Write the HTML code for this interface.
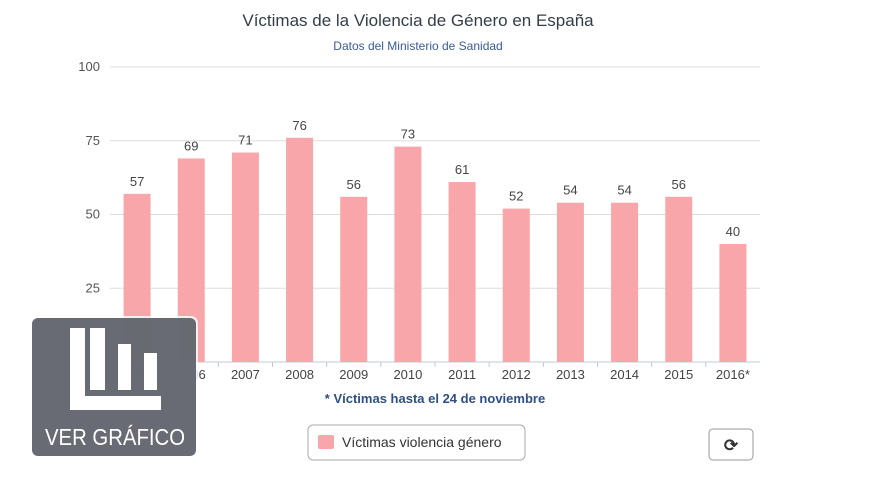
<!DOCTYPE html>
<html><head><meta charset="utf-8"><style>
body{margin:0;width:880px;height:495px;background:#fff;overflow:hidden;font-family:"Liberation Sans",sans-serif;position:relative}
</style></head><body>
<svg id="chart" width="880" height="495" style="position:absolute;left:0;top:0">
<text x="418" y="26" text-anchor="middle" font-size="17" fill="#333d47">Víctimas de la Violencia de Género en España</text>
<text x="418" y="50" text-anchor="middle" font-size="12" fill="#3a5a9a">Datos del Ministerio de Sanidad</text>
<g id="grid"></g><g id="bars"></g><g id="xlabels"></g>
<text x="435" y="403" text-anchor="middle" font-size="13" font-weight="bold" fill="#2e4f86">* Víctimas hasta el 24 de noviembre</text>
<g>
<rect x="308" y="425" width="217" height="35" rx="5" fill="#fff" stroke="#aaa"/>
<rect x="318" y="435" width="16" height="14" rx="2" fill="#f9a6aa"/>
<text x="342" y="447" font-size="14" fill="#333">Víctimas violencia género</text>
</g>
<g>
<rect x="709" y="429" width="44" height="31" rx="4" fill="#fff" stroke="#999"/>
<text x="731" y="451" text-anchor="middle" font-size="17" font-weight="bold" fill="#333">⟳</text>
</g>
<g>
<rect x="30" y="316" width="168" height="142" rx="7" fill="#fff" opacity="0.8"/>
<rect x="32" y="318" width="164" height="138" rx="6" fill="#5d6068" opacity="0.93"/>
<path d="M70 328 h15 v68 h76 v14 h-91 z" fill="#fff"/>
<rect x="90" y="328" width="15" height="62" fill="#fff"/>
<rect x="118" y="344" width="13" height="46" fill="#fff"/>
<rect x="144" y="353" width="13" height="37" fill="#fff"/>
<text x="115" y="445" text-anchor="middle" font-size="23" fill="#fff" textLength="140" lengthAdjust="spacingAndGlyphs">VER GRÁFICO</text>
</g>
</svg>
<script>
const categories=["2005","2006","2007","2008","2009","2010","2011","2012","2013","2014","2015","2016*"];
const values=[57,69,71,76,56,73,61,52,54,54,56,40];
const yTicks=[0,25,50,75,100];
const ns="http://www.w3.org/2000/svg";
const x0=110,x1=760,yTop=67,yBot=362,yMax=100;
const band=(x1-x0)/categories.length;
const xs=i=>x0+band*(i+0.5);
const ys=v=>yBot-(v/yMax)*(yBot-yTop);
function mk(t,a,p){const e=document.createElementNS(ns,t);for(const k in a)e.setAttribute(k,a[k]);p.appendChild(e);return e;}
const grid=document.getElementById('grid');
yTicks.forEach(t=>{
  const l=mk('line',{x1:x0,x2:x1,y1:ys(t),y2:ys(t),stroke:t===0?'#c0c8d8':'#ddd','stroke-width':1},grid);
  
  
  if(t>0){const tx=mk('text',{x:100,y:ys(t)+4,'text-anchor':'end','font-size':13,fill:'#555'},grid);tx.textContent=t;
  
  }
});
const bars=document.getElementById('bars'),xl=document.getElementById('xlabels');
categories.forEach((c,i)=>{
  const v=values[i];
  const r=mk('rect',{x:xs(i)-13.5,y:ys(v),width:27,height:yBot-ys(v),fill:'#f9a6aa'},bars);
  
  
  const vl=mk('text',{x:xs(i),y:ys(v)-8,'text-anchor':'middle','font-size':13,fill:'#444'},bars);vl.textContent=v;
  
  
  const tk=mk('line',{x1:x0+band*i,x2:x0+band*i,y1:yBot,y2:yBot+5,stroke:'#c0c8d8'},xl);
  
  
  const t=mk('text',{x:xs(i),y:yBot+17,'text-anchor':'middle','font-size':13,fill:'#444'},xl);t.textContent=c;
  
  
});
</script>
</body></html>
